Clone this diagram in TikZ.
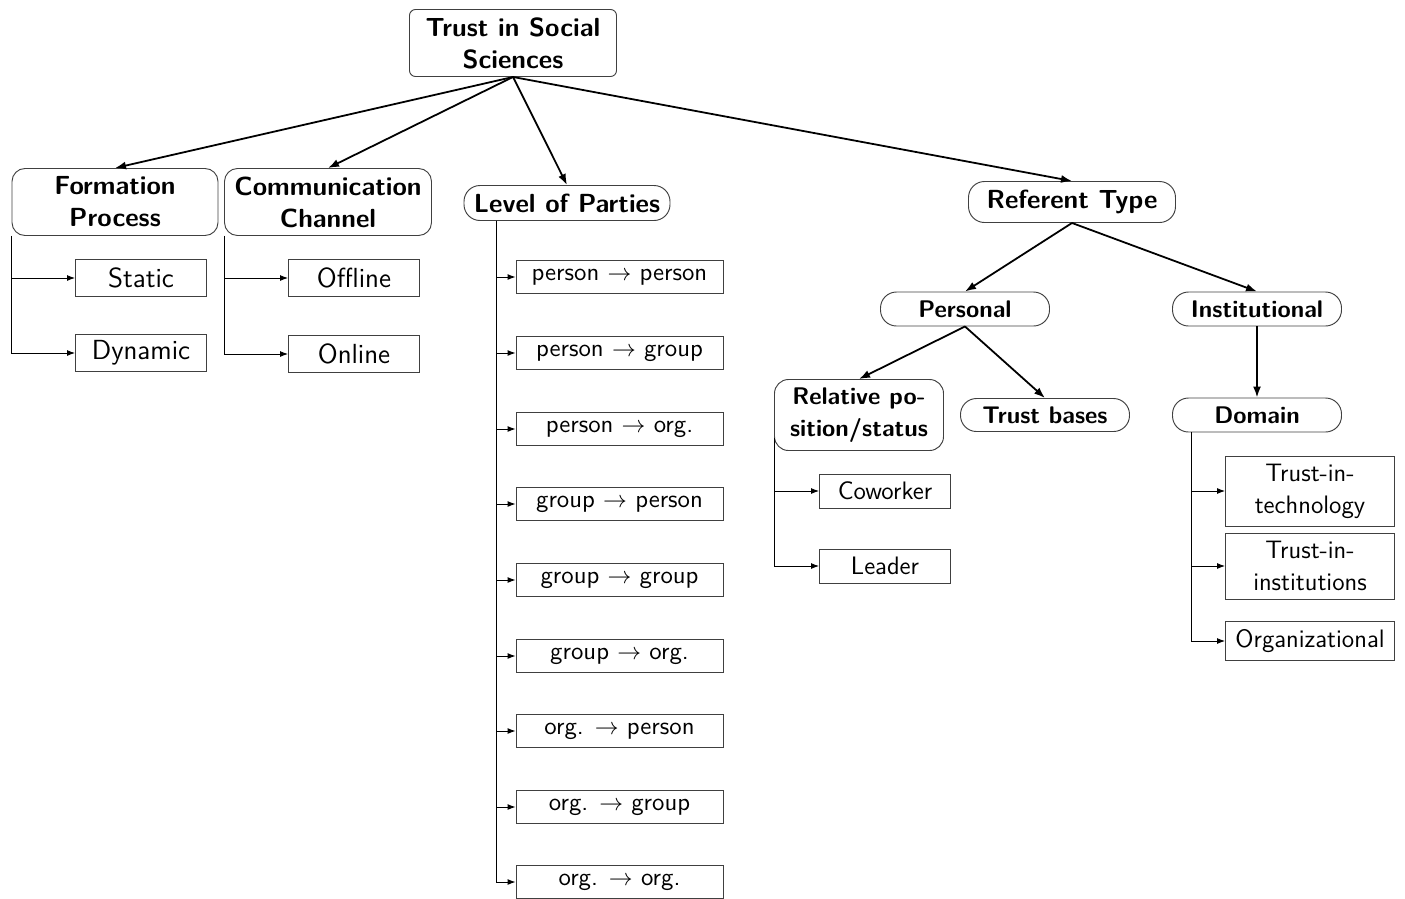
\documentclass[tikz,border=0pt]{standalone}
\usepackage{fontspec}
\newfontfamily\sansxii{lmsans12-regular.otf}
\usetikzlibrary{arrows.meta,calc}
\newcommand\pxu{0.42pt}
\tikzset{
  base/.style={draw=black!75, line width=0.4pt, inner sep=1pt, align=center, font=\sffamily\fontsize{11.6}{13.5}\selectfont},
  head/.style={base, rounded corners=13*\pxu, font=\sffamily\bfseries\fontsize{11}{13.5}\selectfont, minimum width=207*\pxu},
  subhead/.style={head, rounded corners=16*\pxu, minimum width=169*\pxu, font=\sffamily\bfseries\fontsize{10.1}{13.5}\selectfont},
  leafbox/.style={base, minimum width=131*\pxu, minimum height=37*\pxu},
  smallleaf/.style={base, font=\sansxii\fontsize{10.6}{13.5}\selectfont},
  levelbox/.style={base, minimum width=207*\pxu, minimum height=33*\pxu, font=\sffamily\fontsize{10.4}{12.5}\selectfont},
  widebox/.style={smallleaf, minimum width=169*\pxu},
  link/.style={-{Latex[length=11*\pxu,width=8*\pxu]}, line width=0.75pt},
  sub/.style={-{Latex[length=8*\pxu,width=6*\pxu]}, line width=0.4pt},
}
\begin{document}
\begin{tikzpicture}[x=0.42pt,y=-0.42pt]
\useasboundingbox (0,0) rectangle (1405,898);

% top level
\node[head, rounded corners=6*\pxu, minimum height=67*\pxu] (root) at (513,43) {Trust in Social\\Sciences};
\node[head, minimum height=67*\pxu, minimum width=206*\pxu] (fp) at (115,202) {Formation\\Process};
\node[head, minimum height=67*\pxu] (cc) at (328,202) {Communication\\Channel};
\node[head, rounded corners=16*\pxu, minimum height=35*\pxu, minimum width=206*\pxu] (lp) at (567,203) {Level of Parties};
\node[head, rounded corners=16*\pxu, minimum height=41*\pxu] (rt) at (1072,202) {Referent Type};

\draw[link] (root.south) -- (fp.north);
\draw[link] (root.south) -- (cc.north);
\draw[link] (root.south) -- (lp.north);
\draw[link] (root.south) -- (rt.north);

% formation process
\node[leafbox] (st) at (141,278) {Static};
\node[leafbox] (dy) at (141,353) {Dynamic};
\draw[sub] (fp.south west) |- (st.west);
\draw[sub] (fp.south west) |- (dy.west);

% communication channel
\node[leafbox] (of) at (354,278) {Offline};
\node[leafbox] (on) at (354,354) {Online};
\draw[sub] (cc.south west) |- (of.west);
\draw[sub] (cc.south west) |- (on.west);

% level of parties
\node[levelbox] (l1) at (619.5,277) {person $\rightarrow$ person};
\node[levelbox] (l2) at (619.5,353) {person $\rightarrow$ group};
\node[levelbox] (l3) at (619.5,429) {person $\rightarrow$ org.};
\node[levelbox] (l4) at (619.5,504) {group $\rightarrow$ person};
\node[levelbox] (l5) at (619.5,580) {group $\rightarrow$ group};
\node[levelbox] (l6) at (619.5,656) {group $\rightarrow$ org.};
\node[levelbox] (l7) at (619.5,731) {org. $\rightarrow$ person};
\node[levelbox] (l8) at (619.5,807) {org. $\rightarrow$ group};
\node[levelbox] (l9) at (619.5,882) {org. $\rightarrow$ org.};
\coordinate (lpr) at ($(lp.south west)+(33,0)$);
\foreach \k in {1,...,9} \draw[sub] (lpr) |- (l\k.west);

% referent type
\node[subhead, minimum height=34*\pxu] (pe) at (965,309) {Personal};
\node[subhead, minimum height=34*\pxu] (in) at (1257,309) {Institutional};
\draw[link] (rt.south) -- (pe.north);
\draw[link] (rt.south) -- (in.north);

\node[subhead, rounded corners=14*\pxu, minimum height=71*\pxu] (rp) at (859,415) {Relative po-\\sition/status};
\node[subhead, minimum height=33*\pxu] (tb) at (1045,415) {Trust bases};
\draw[link] (pe.south) -- (rp.north);
\draw[link] (pe.south) -- (tb.north);

\node[subhead, minimum height=34*\pxu] (dm) at (1257,415) {Domain};
\draw[link] (in.south) -- (dm.north);

% relative position/status
\node[leafbox, smallleaf, minimum height=34*\pxu] (cw) at (885,491) {Coworker};
\node[leafbox, smallleaf, minimum height=34*\pxu] (ld) at (885,566) {Leader};
\coordinate (rpl) at ($(rp.south west)+(0,-13)$);
\draw[sub] (rpl) |- (cw.west);
\draw[sub] (rpl) |- (ld.west);

% domain
\node[widebox, minimum height=70*\pxu] (tt) at (1310,491) {Trust-in-\\technology};
\node[widebox, minimum height=66*\pxu] (ti) at (1310,566) {Trust-in-\\institutions};
\node[widebox, minimum height=39*\pxu] (og) at (1310,641) {Organizational};
\coordinate (dml) at ($(dm.south west)+(19,0)$);
\draw[sub] (dml) |- (tt.west);
\draw[sub] (dml) |- (ti.west);
\draw[sub] (dml) |- (og.west);
\end{tikzpicture}
\end{document}
